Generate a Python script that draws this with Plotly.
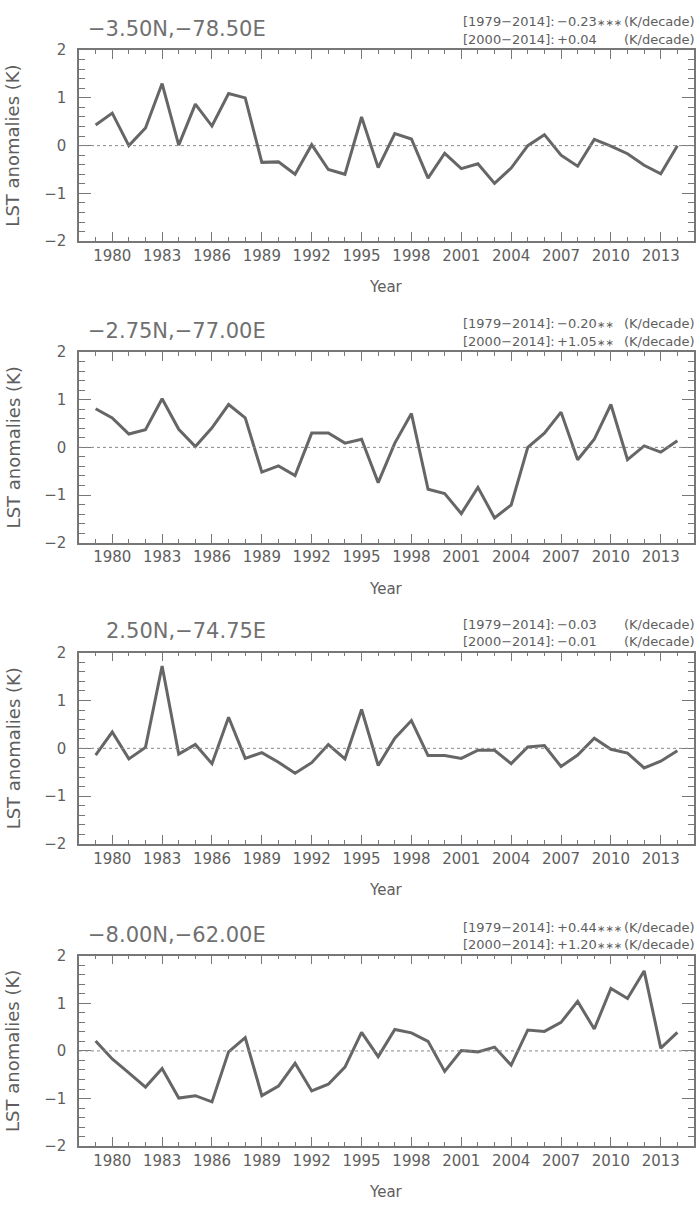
import plotly.graph_objects as go

years = list(range(1979, 2015))

titles = ["\u22123.50N,\u221278.50E", "\u22122.75N,\u221277.00E", "2.50N,\u221274.75E", "\u22128.00N,\u221262.00E"]

trend_full = ["\u22120.23", "\u22120.20", "\u22120.03", "+0.44"]
stars_full = [3, 2, 0, 3]
trend_recent = ["+0.04", "+1.05", "\u22120.01", "+1.20"]
stars_recent = [0, 2, 0, 3]
period_full = "[1979\u22122014]:"
period_recent = "[2000\u22122014]:"
unit_label = "(K/decade)"

lst_p1 = [0.43, 0.68, 0.0, 0.37, 1.30, 0.01, 0.87, 0.41, 1.09, 1.0,
          -0.35, -0.34, -0.6, 0.02, -0.5, -0.6, 0.6, -0.46, 0.25, 0.14,
          -0.68, -0.16, -0.48, -0.38, -0.79, -0.47, 0.0, 0.23, -0.2, -0.43,
          0.13, -0.01, -0.17, -0.41, -0.59, 0.0]
lst_p2 = [0.81, 0.62, 0.28, 0.37, 1.02, 0.38, 0.02, 0.41, 0.9, 0.62,
          -0.52, -0.39, -0.59, 0.30, 0.30, 0.09, 0.17, -0.74, 0.09, 0.71,
          -0.88, -0.97, -1.39, -0.84, -1.48, -1.21, 0.0, 0.3, 0.74, -0.26,
          0.17, 0.9, -0.26, 0.03, -0.1, 0.14]
lst_p3 = [-0.14, 0.34, -0.22, 0.02, 1.72, -0.12, 0.08, -0.32, 0.65, -0.21,
          -0.09, -0.29, -0.52, -0.3, 0.08, -0.22, 0.81, -0.36, 0.21, 0.58,
          -0.15, -0.15, -0.21, -0.04, -0.04, -0.32, 0.03, 0.06, -0.38, -0.14,
          0.21, -0.02, -0.1, -0.41, -0.27, -0.05]
lst_p4 = [0.21, -0.17, -0.46, -0.76, -0.37, -0.99, -0.94, -1.07, -0.02, 0.28,
          -0.94, -0.74, -0.26, -0.84, -0.7, -0.34, 0.39, -0.12, 0.45, 0.38,
          0.2, -0.43, 0.01, -0.02, 0.08, -0.3, 0.44, 0.41, 0.6, 1.04,
          0.46, 1.31, 1.1, 1.68, 0.06, 0.39]
series = [lst_p1, lst_p2, lst_p3, lst_p4]

W, H = 700, 1210
ML, MR = 79, 6
PW = W - ML - MR
# panel top / bottom in pixels
panel_px = [(41.7, 235.7), (348.3, 541.7), (653.3, 847.7), (961.0, 1154.3)]


def px_x(px):
    return (px - ML) / PW


def px_y(py):
    return 1 - py / H


FONT = "DejaVu Sans"
TXT = "#5e5e5e"
AX = "#777777"

fig = go.Figure()
layout = dict(
    width=W, height=H,
    margin=dict(l=ML, r=MR, t=0, b=0),
    paper_bgcolor="white", plot_bgcolor="white",
    showlegend=False,
    font=dict(family=FONT, color=TXT, size=15),
)
annotations = []
shapes = []


def star_html(k):
    if k == 0:
        return ""
    return '<span style="font-size:10px">' + "\u2217" * k + "</span>"


def add_text(text, x, y, anchor, size, color=TXT, angle=0):
    annotations.append(dict(text=text, xref="paper", yref="paper",
                            x=px_x(x), y=px_y(y), xanchor=anchor, yanchor="middle",
                            textangle=angle, showarrow=False,
                            font=dict(family=FONT, size=size, color=color)))


for i, (vals, (top, bot)) in enumerate(zip(series, panel_px)):
    n = "" if i == 0 else str(i + 1)
    fig.add_trace(go.Scatter(x=years, y=vals, mode="lines",
                             line=dict(color="#666666", width=3),
                             xaxis="x" + n, yaxis="y" + n, hoverinfo="x+y"))
    dom = [px_y(bot), px_y(top)]
    layout["xaxis" + n] = dict(
        domain=[0, 1], anchor="y" + n, range=[1978, 2015],
        tickmode="linear", tick0=1980, dtick=3,
        ticks="inside", ticklen=9, tickwidth=1, tickcolor=AX,
        minor=dict(ticks="inside", ticklen=4, dtick=1, tick0=1979, tickcolor=AX, tickwidth=1),
        showline=True, linecolor=AX, linewidth=1.5, mirror="ticks",
        showgrid=False, zeroline=False,
        tickfont=dict(family=FONT, size=15, color=TXT),
        ticklabelstandoff=0,
    )
    layout["yaxis" + n] = dict(
        domain=dom, anchor="x" + n, range=[-2, 2],
        tickmode="linear", tick0=0, dtick=1,
        ticks="inside", ticklen=12, tickwidth=1, tickcolor=AX,
        minor=dict(ticks="inside", ticklen=6, dtick=0.2, tickcolor=AX, tickwidth=1),
        showline=True, linecolor=AX, linewidth=1.5, mirror="ticks",
        showgrid=False, zeroline=False,
        tickfont=dict(family=FONT, size=15, color=TXT),
        ticklabelstandoff=8,
    )
    shapes.append(dict(type="line", xref="x" + n + " domain", yref="y" + n,
                       x0=0, x1=1, y0=0, y1=0,
                       line=dict(color="#888888", width=1, dash="dot")))
    # panel title
    add_text(titles[i], 268, top - 21.5, "right", 21, color="#707070")
    # trend rows
    rows = [(period_full, trend_full[i], stars_full[i], 29),
            (period_recent, trend_recent[i], stars_recent[i], 11)]
    for per, val, k, dy in rows:
        add_text(per, 461, top - dy, "left", 13)
        add_text(val + star_html(k), 555, top - dy, "left", 13)
        add_text(unit_label, 697, top - dy, "right", 13)
    # x title
    add_text("Year", 386, bot + 47, "center", 15)
    # y title
    add_text("LST anomalies (K)", 13, (top + bot) / 2, "center", 18, angle=-90)

layout["annotations"] = annotations
layout["shapes"] = shapes
fig.update_layout(**layout)
fig.write_html(
    "out.html",
    config={"displayModeBar": False},
    post_script="document.body.style.margin='0';document.body.style.padding='0';"
                "document.documentElement.style.overflow='hidden';",
)
